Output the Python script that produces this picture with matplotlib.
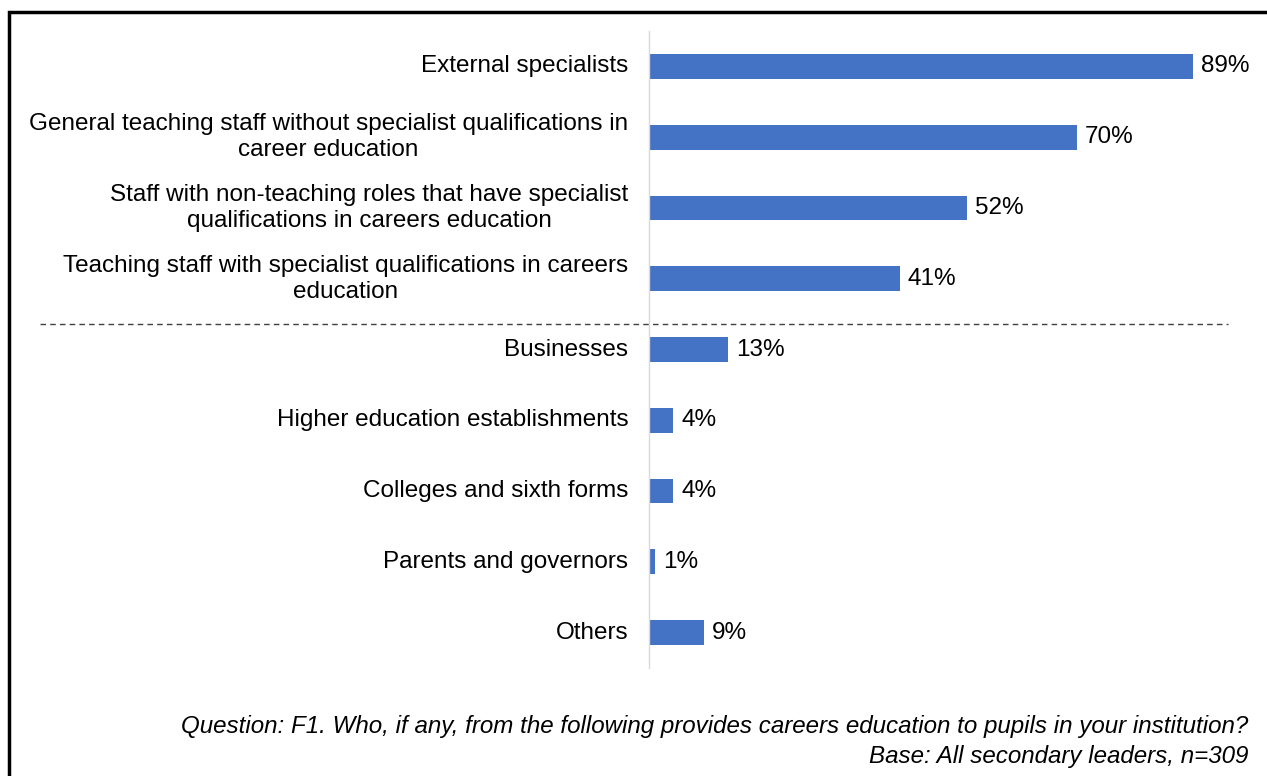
import matplotlib.pyplot as plt
from matplotlib.patches import Rectangle
from matplotlib.transforms import blended_transform_factory

plt.rcParams['font.family'] = ['Liberation Sans', 'DejaVu Sans']

categories = [
    'External specialists',
    'General teaching staff without specialist qualifications in\ncareer education',
    'Staff with non-teaching roles that have specialist\nqualifications in careers education',
    'Teaching staff with specialist qualifications in careers\neducation',
    'Businesses',
    'Higher education establishments',
    'Colleges and sixth forms',
    'Parents and governors',
    'Others',
]
values = [89, 70, 52, 41, 13, 4, 4, 1, 9]
value_labels = ['89%', '70%', '52%', '41%', '13%', '4%', '4%', '1%', '9%']

question = 'Question: F1. Who, if any, from the following provides careers education to pupils in your institution?'
base = 'Base: All secondary leaders, n=309'

FS = 17.5
W, H = 1267, 776
fig = plt.figure(figsize=(W / 100, H / 100), dpi=100)
ax = fig.add_axes([649 / W, 1 - 668 / H, 611 / W, 637 / H])

pos = list(range(len(categories)))
ax.barh(pos, values, height=0.35, color='#4472C4')
ax.set_xlim(0, 100)
ax.set_ylim(len(categories) - 0.5, -0.5)

for y, v, lab in zip(pos, values, value_labels):
    ax.text(v + 1.3, y, lab, va='center', ha='left', fontsize=FS)

for y, cat in zip(pos, categories):
    ax.text(-3.4, y, cat, va='center', ha='right', multialignment='center',
            fontsize=FS, linespacing=1.25)

ax.set_xticks([])
ax.set_yticks([])
for s in ['top', 'right', 'bottom']:
    ax.spines[s].set_visible(False)
ax.spines['left'].set_color('#D9D9D9')
ax.spines['left'].set_linewidth(1)

# dashed separator between staff groups and outside organisations
tr = blended_transform_factory(fig.transFigure, ax.transData)
ax.plot([40 / W, 1228 / W], [3.64, 3.64], transform=tr, clip_on=False,
        color='#404040', linewidth=1, linestyle=(0, (4, 3)))

fig.text(1248 / W, 1 - 733 / H, question, ha='right', va='baseline',
         fontsize=17.4, style='italic')
fig.text(1248 / W, 1 - 763 / H, base, ha='right', va='baseline',
         fontsize=17.4, style='italic')

# outer frame, open on the right and bottom
fig.add_artist(Rectangle((9 / W, -0.5), 2, 0.5 + (1 - 12 / H),
                         transform=fig.transFigure, fill=False,
                         edgecolor='black', linewidth=2.5))

fig.savefig('out.png', dpi=100)
